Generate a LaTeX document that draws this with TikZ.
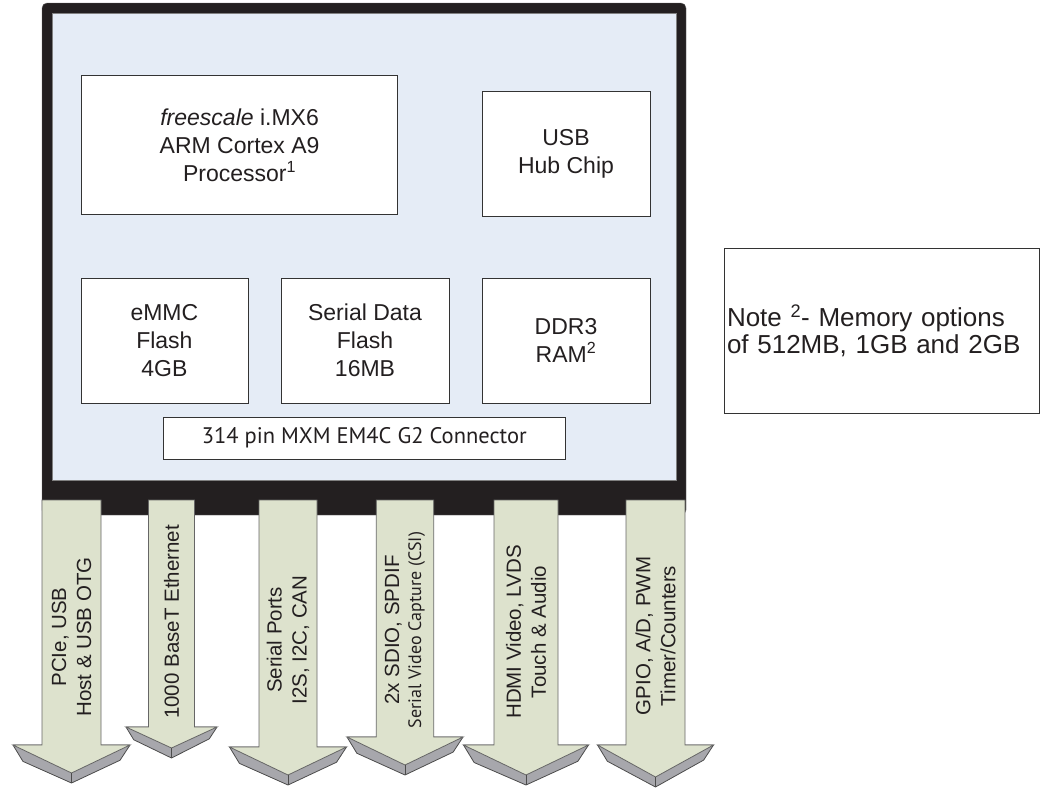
\documentclass[tikz,border=0pt]{standalone}
\usepackage{fontspec}
\setmainfont{Liberation Sans}
\newfontfamily\mxmfont{PT Sans}
\definecolor{boardblack}{HTML}{231F20}
\definecolor{boardfill}{HTML}{E5ECF6}
\definecolor{arrowfill}{HTML}{DDE2CD}
\definecolor{arrowside}{HTML}{A7A7AC}

\begin{document}
\begin{tikzpicture}[x=1pt,y=-1pt,
        chip/.style={draw=black!80,fill=white,line width=0.8pt,align=center,inner sep=0pt,
            text=boardblack,font=\fontsize{23}{28}\selectfont},
        busarrow/.style={draw=black!60,fill=arrowfill,line width=0.8pt},
        bevel/.style={draw=black!70,fill=arrowside,line width=0.8pt,line join=round},
        buslabel/.style={rotate=90,align=center,text=boardblack,font=\fontsize{20.5}{25}\selectfont}]

            \useasboundingbox (0,0) rectangle (1041,790);

            % module board
            \draw[fill=boardblack,draw=black!60,rounded corners=5pt] (42,3) rectangle (686,515);
            \draw[fill=boardfill,draw=black!50] (52.5,13) rectangle (676,480);

            \node[chip,minimum width=316pt,minimum height=139pt] (proc) at (239.6,145.1)
                {\textit{freescale} i.MX6\\ARM Cortex A9\\Processor\textsuperscript{1}};
            \node[chip,minimum width=168pt,minimum height=125pt] (usbhub) at (566,153.4) {USB\\Hub Chip};
            \node[chip,minimum width=167pt,minimum height=125pt] (emmc) at (164.4,340.7) {eMMC\\Flash\\4GB};
            \node[chip,minimum width=168pt,minimum height=125pt] (sflash) at (365,340.7) {Serial Data\\Flash\\16MB};
            \node[chip,minimum width=168pt,minimum height=125pt] (ddr) at (566,340.7) {DDR3\\RAM\textsuperscript{2}};
            \node[chip,minimum width=401.5pt,minimum height=42pt,font=\mxmfont\fontsize{22.5}{26}\selectfont] (mxm) at (364.3,438)
                {314 pin MXM EM4C G2 Connector};

            % signal groups
            \foreach \cx/\s/\b/\w/\h in {71.5/29.5/745/58.5/28, 171.5/23/727/45.5/21, 288/29/747/58.5/28,
                405/28.7/737/58/28, 526/32/745/62.5/30, 655.5/29.5/745/58/32}{
                \draw[bevel] ({\cx-\w},\b) -- ({\cx-0.83*\w},{\b+0.28*\w}) -- (\cx,{\b+\h+10})
                    -- ({\cx+0.83*\w},{\b+0.26*\w}) -- ({\cx+\w},\b) -- cycle;
                \draw[busarrow] ({\cx-\s},500) -- ({\cx-\s},\b) -- ({\cx-\w},\b) -- (\cx,{\b+\h})
                    -- ({\cx+\w},\b) -- ({\cx+\s},\b) -- ({\cx+\s},500) -- cycle;
                \draw[black!70,line width=0.8pt] (\cx,{\b+\h}) -- (\cx,{\b+\h+10});
            }

            \node[buslabel] (pcie) at (71.5,637) {PCIe, USB\\Host \& USB OTG};
            \node[buslabel] (enet) at (171.5,622) {1000 BaseT Ethernet};
            \node[buslabel] (serial) at (288,640) {Serial Ports\\I2S, I2C, CAN};
            \node[buslabel] (sdio) at (405,630)
                {2x SDIO, SPDIF\\[-3pt]{\mxmfont\fontsize{18}{20}\selectfont Serial Video Capture (CSI)}};
            \node[buslabel] (hdmi) at (526,632) {HDMI Video, LVDS\\Touch \& Audio};
            \node[buslabel] (gpio) at (655.5,636) {GPIO, A/D, PWM\\Timer/Counters};

            \node[draw=black!80,line width=0.8pt,minimum width=315pt,minimum height=165pt,text width=309pt,
                inner xsep=3pt,align=left,text=boardblack,font=\fontsize{26}{27}\selectfont] (note) at (881.5,330.5)
                {Note \textsuperscript{2}- Memory options\\of 512MB, 1GB and 2GB};
\end{tikzpicture}
\end{document}
